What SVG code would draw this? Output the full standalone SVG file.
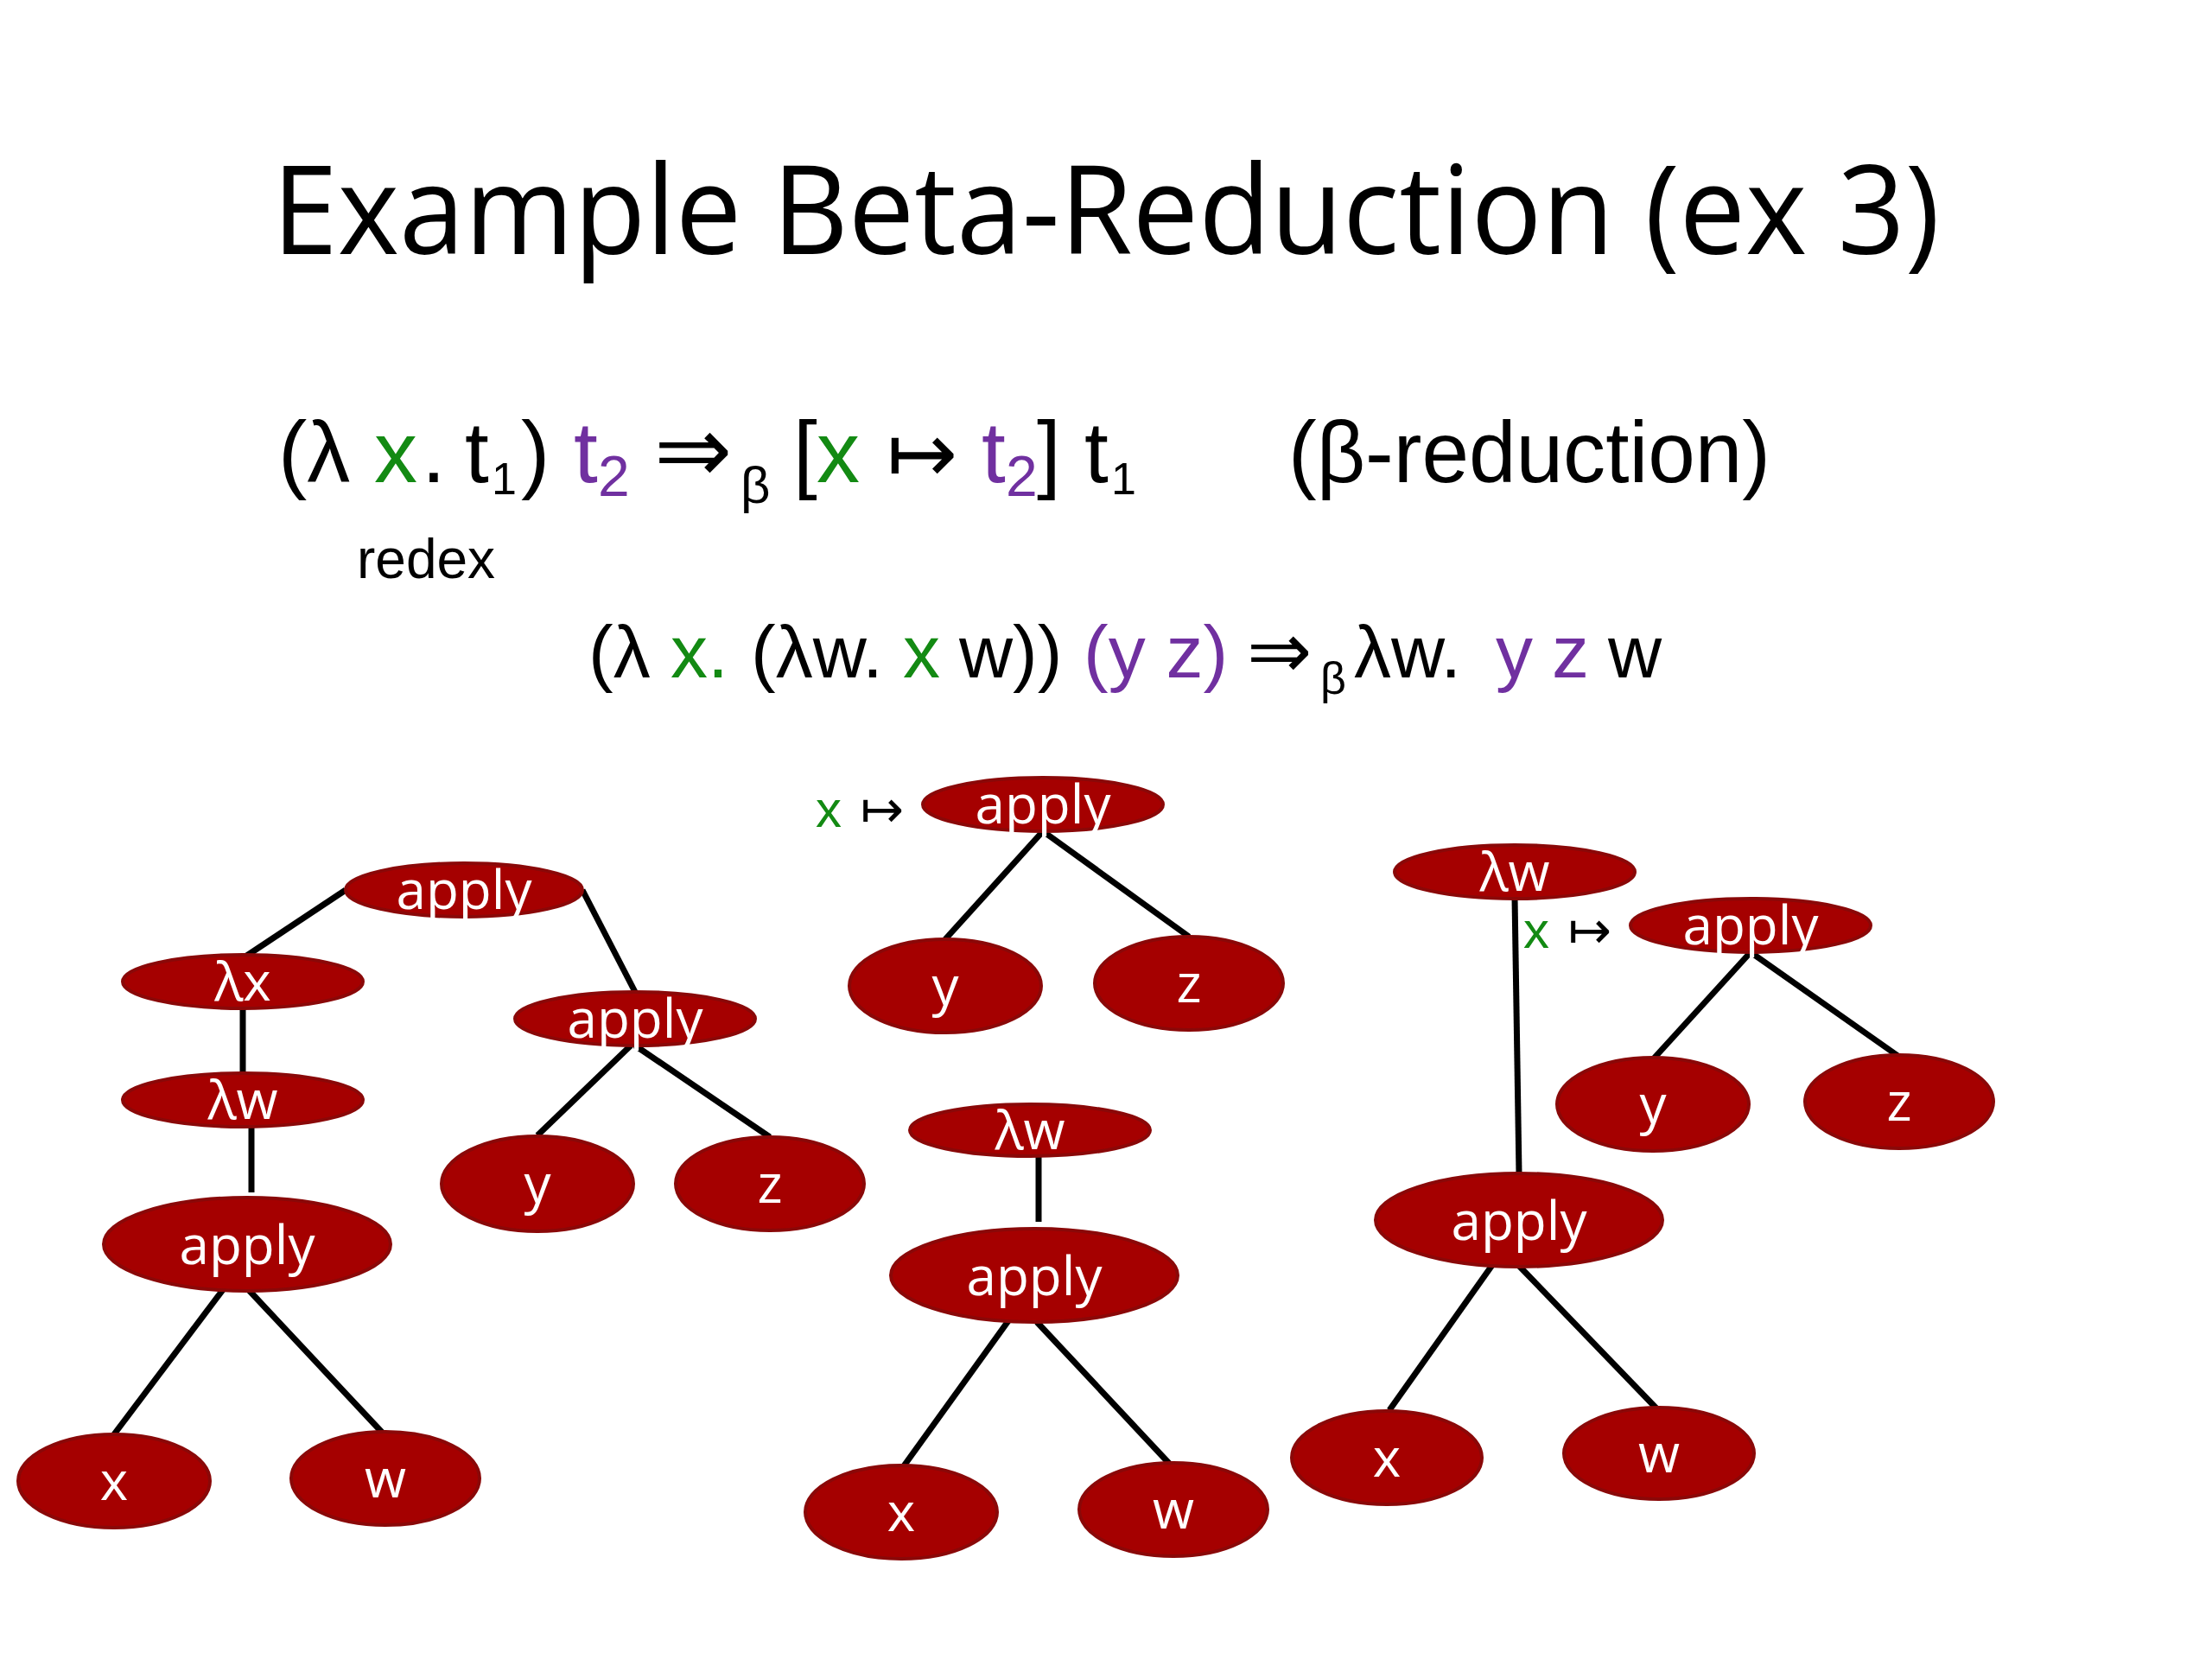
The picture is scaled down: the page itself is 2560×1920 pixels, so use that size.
<svg xmlns="http://www.w3.org/2000/svg" width="2560" height="1920" viewBox="0 0 2560 1920">
<style>
.bg{fill:#ffffff}
.title{font-family:"Open Sans","Liberation Sans",sans-serif;font-size:142px;fill:#000}
.f{font-family:"Liberation Sans","DejaVu Sans",sans-serif;fill:#000}
.g{fill:#138a13}
.p{fill:#7030a0}
.n ellipse{fill:#a50000;stroke:#8a0808;stroke-width:4}
.n text{font-family:"Open Sans","Liberation Sans",sans-serif;font-size:62px;fill:#fff;text-anchor:middle}
.e line{stroke:#000;stroke-width:7;stroke-linecap:butt}
</style>
<rect class="bg" width="2560" height="1920"/>
<text class="title" x="315" y="294" textLength="1930" lengthAdjust="spacingAndGlyphs">Example Beta-Reduction (ex 3)</text>

<g id="rule">
<text class="f" font-size="100" y="558"><tspan x="322">(λ</tspan><tspan x="433" class="g">x</tspan><tspan x="488">.</tspan><tspan x="538">t</tspan><tspan x="569" y="572" font-size="52">1</tspan><tspan x="603" y="558">)</tspan><tspan x="664" class="p">t</tspan><tspan x="692" y="574" font-size="66" class="p">2</tspan><tspan x="757" y="558" font-size="108">⇒</tspan><tspan x="857" y="582" font-size="60">β</tspan><tspan x="918" y="558">[</tspan><tspan x="945" class="g">x</tspan><tspan x="1026" font-size="98">↦</tspan><tspan x="1136" class="p">t</tspan><tspan x="1164" y="574" font-size="66" class="p">2</tspan><tspan x="1200" y="558">]</tspan><tspan x="1255">t</tspan><tspan x="1286" y="572" font-size="52">1</tspan></text>
<text class="f" font-size="100" x="1491" y="558" textLength="558" lengthAdjust="spacingAndGlyphs">(β-reduction)</text>
</g>
<text id="redex" class="f" font-size="64" x="413" y="669">redex</text>

<g id="example">
<text class="f" font-size="86" y="784"><tspan x="681">(λ</tspan><tspan x="776" class="g">x.</tspan><tspan x="869">(λw.</tspan><tspan x="1045" class="g">x</tspan><tspan x="1110">w))</tspan><tspan x="1254" class="p">(y z)</tspan><tspan x="1443" font-size="90">⇒</tspan><tspan x="1528" y="803" font-size="52">β</tspan><tspan x="1567" y="784">λw.</tspan><tspan x="1731" class="p">y</tspan><tspan x="1796" class="p">z</tspan><tspan x="1861">w</tspan></text>
</g>

<g id="subst-label-1"><text class="f" font-size="60" y="957"><tspan x="944" class="g">x</tspan><tspan x="996" font-size="60">↦</tspan></text></g>
<g id="subst-label-2"><text class="f" font-size="60" y="1097"><tspan x="1763" class="g">x</tspan><tspan x="1815" font-size="60">↦</tspan></text></g>

<g id="connectors" class="e">
<line x1="400" y1="1030" x2="281" y2="1109"/>
<line x1="674" y1="1030" x2="735" y2="1148"/>
<line x1="281" y1="1167" x2="281" y2="1242"/>
<line x1="291" y1="1305" x2="291" y2="1380"/>
<line x1="269" y1="1478" x2="132" y2="1660"/>
<line x1="286" y1="1491" x2="449" y2="1665"/>
<line x1="730" y1="1210" x2="622" y2="1314"/>
<line x1="735" y1="1210" x2="891" y2="1316"/>
<line x1="1207" y1="962" x2="1094" y2="1087"/>
<line x1="1207" y1="962" x2="1376" y2="1084"/>
<line x1="1202" y1="1338" x2="1202" y2="1414"/>
<line x1="1179" y1="1512" x2="1045" y2="1698"/>
<line x1="1200" y1="1530" x2="1360" y2="1701"/>
<line x1="1753" y1="1038" x2="1758" y2="1358"/>
<line x1="2026" y1="1102" x2="1913" y2="1226"/>
<line x1="2026" y1="1102" x2="2198" y2="1223"/>
<line x1="1742" y1="1443" x2="1608" y2="1632"/>
<line x1="1758" y1="1465" x2="1920" y2="1633"/>
</g>

<g id="t1-apply" class="n"><ellipse cx="537" cy="1030" rx="137" ry="31"/><text x="537" y="1052">apply</text></g>
<g id="t1-lx" class="n"><ellipse cx="281" cy="1136" rx="139" ry="31"/><text x="281" y="1158">λx</text></g>
<g id="t1-lw" class="n"><ellipse cx="281" cy="1273" rx="139" ry="31"/><text x="281" y="1295">λw</text></g>
<g id="t1-apply2" class="n"><ellipse cx="286" cy="1440" rx="166" ry="54"/><text x="286" y="1463">apply</text></g>
<g id="t1-x" class="n"><ellipse cx="132" cy="1714" rx="111" ry="54"/><text x="132" y="1736">x</text></g>
<g id="t1-w" class="n"><ellipse cx="446" cy="1711" rx="109" ry="54"/><text x="446" y="1733">w</text></g>
<g id="t1-apply3" class="n"><ellipse cx="735" cy="1179" rx="139" ry="31"/><text x="735" y="1201">apply</text></g>
<g id="t1-y" class="n"><ellipse cx="622" cy="1370" rx="111" ry="55"/><text x="622" y="1392">y</text></g>
<g id="t1-z" class="n"><ellipse cx="891" cy="1370" rx="109" ry="54"/><text x="891" y="1392">z</text></g>

<g id="t2-apply" class="n"><ellipse cx="1207" cy="931" rx="139" ry="31"/><text x="1207" y="953">apply</text></g>
<g id="t2-y" class="n"><ellipse cx="1094" cy="1141" rx="111" ry="54"/><text x="1094" y="1163">y</text></g>
<g id="t2-z" class="n"><ellipse cx="1376" cy="1138" rx="109" ry="54"/><text x="1376" y="1160">z</text></g>
<g id="t2-lw" class="n"><ellipse cx="1192" cy="1308" rx="139" ry="30"/><text x="1192" y="1330">λw</text></g>
<g id="t2-apply2" class="n"><ellipse cx="1197" cy="1476" rx="166" ry="54"/><text x="1197" y="1499">apply</text></g>
<g id="t2-x" class="n"><ellipse cx="1043" cy="1750" rx="111" ry="54"/><text x="1043" y="1772">x</text></g>
<g id="t2-w" class="n"><ellipse cx="1358" cy="1747" rx="109" ry="54"/><text x="1358" y="1769">w</text></g>

<g id="t3-lw" class="n"><ellipse cx="1753" cy="1009" rx="139" ry="31"/><text x="1753" y="1031">λw</text></g>
<g id="t3-apply" class="n"><ellipse cx="2026" cy="1071" rx="139" ry="31"/><text x="2026" y="1093">apply</text></g>
<g id="t3-y" class="n"><ellipse cx="1913" cy="1278" rx="111" ry="54"/><text x="1913" y="1300">y</text></g>
<g id="t3-z" class="n"><ellipse cx="2198" cy="1275" rx="109" ry="54"/><text x="2198" y="1297">z</text></g>
<g id="t3-apply2" class="n"><ellipse cx="1758" cy="1412" rx="166" ry="54"/><text x="1758" y="1435">apply</text></g>
<g id="t3-x" class="n"><ellipse cx="1605" cy="1687" rx="110" ry="54"/><text x="1605" y="1709">x</text></g>
<g id="t3-w" class="n"><ellipse cx="1920" cy="1682" rx="110" ry="53"/><text x="1920" y="1704">w</text></g>
</svg>
